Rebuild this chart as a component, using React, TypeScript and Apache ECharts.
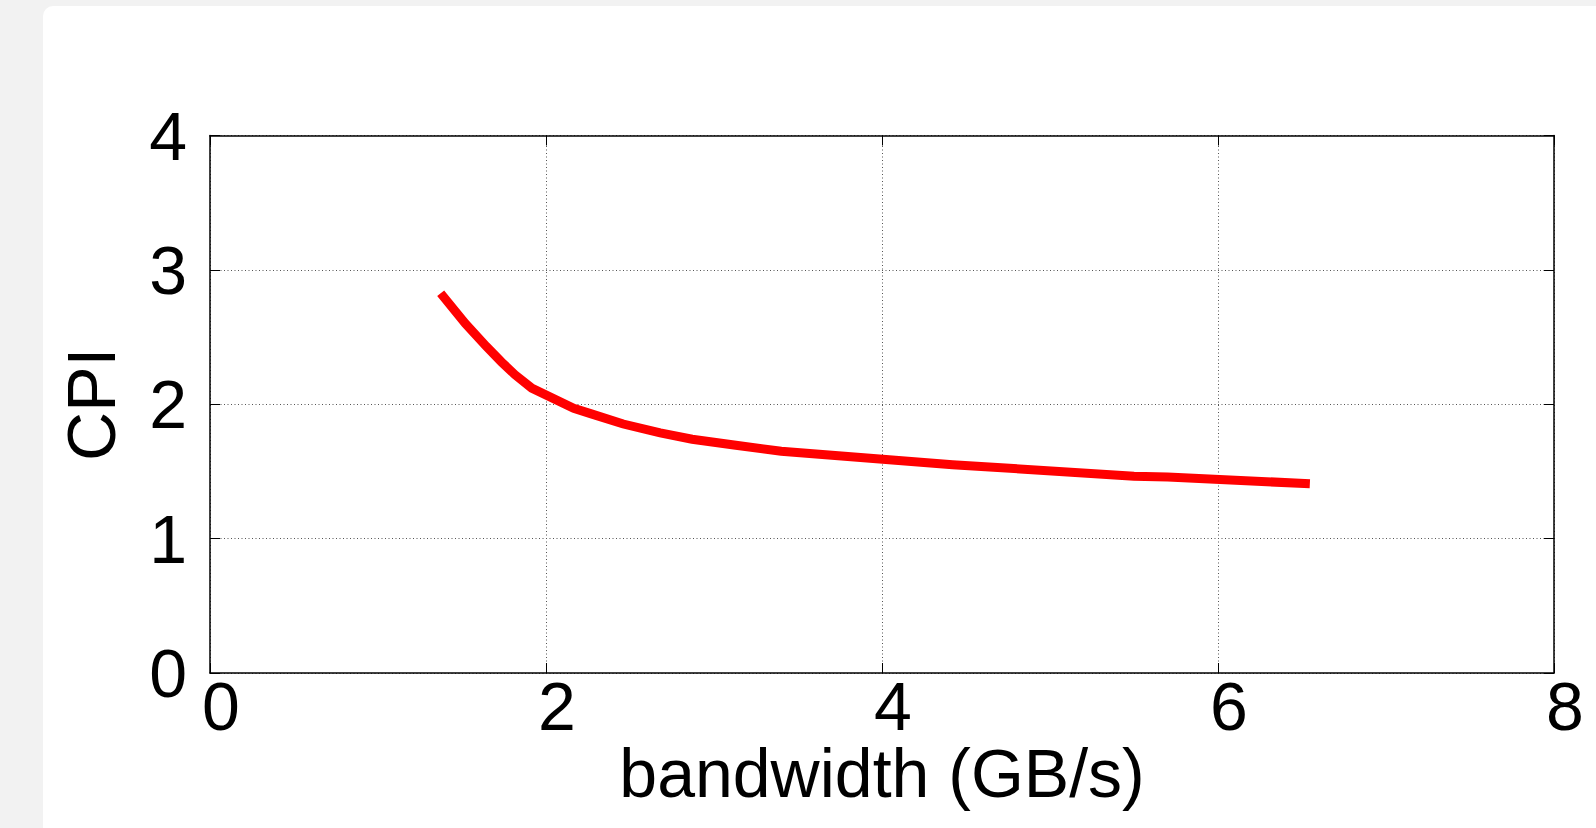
import React, { useEffect, useRef } from "react";
import * as echarts from "echarts";

const bandwidth = [1.39, 1.52, 1.645, 1.735, 1.815, 1.915, 2.165, 2.265, 2.46, 2.68, 2.87, 3.13, 3.4, 4.42, 5.5, 5.7, 6.52];
const cpi = [2.8, 2.6, 2.43, 2.315, 2.22, 2.12, 1.97, 1.93, 1.853, 1.787, 1.74, 1.695, 1.65, 1.55, 1.465, 1.458, 1.41];
const xTicks = [0, 2, 4, 6, 8];
const yTicks = [0, 1, 2, 3, 4];

const FONT = "Liberation Sans";

export default function App() {
  const ref = useRef<HTMLDivElement>(null);
  useEffect(() => {
    if (!ref.current) return;
    const chart = echarts.init(ref.current, null, { renderer: "svg" });
    const points = bandwidth.map((b, i) => [b, cpi[i]]);
    const gridLine = { show: true, lineStyle: { color: "#555", width: 1, type: [1, 2.5] as any } };
    const border = { show: true, onZero: false, lineStyle: { color: "#000", width: 1.5 } };
    const tick = { show: true, inside: true, length: 10, lineStyle: { color: "#000", width: 1 } };
    chart.setOption({
      animation: false,
      backgroundColor: "transparent",
      grid: { left: 210, top: 135.5, right: 42, bottom: 155, containLabel: false },
      xAxis: [
        {
          type: "value",
          min: xTicks[0],
          max: xTicks[xTicks.length - 1],
          interval: 2,
          name: "bandwidth (GB/s)",
          nameLocation: "middle",
          nameGap: 74,
          nameMoveOverlap: false,
          nameTextStyle: { fontFamily: FONT, fontSize: 68, lineHeight: 52, color: "#000" },
          axisLine: border,
          axisTick: tick,
          axisLabel: { fontFamily: FONT, fontSize: 68, lineHeight: 52, color: "#000", margin: 7, padding: [0, 0, 0, 22] },
          splitLine: gridLine,
        },
        {
          type: "value",
          position: "top",
          min: xTicks[0],
          max: xTicks[xTicks.length - 1],
          interval: 2,
          axisLine: border,
          axisTick: tick,
          axisLabel: { show: false },
          splitLine: { show: false },
        },
      ],
      yAxis: [
        {
          type: "value",
          min: yTicks[0],
          max: yTicks[yTicks.length - 1],
          interval: 1,
          name: "CPI",
          nameLocation: "middle",
          nameGap: 85,
          nameRotate: 90,
          nameTextStyle: { fontFamily: FONT, fontSize: 68, color: "#000" },
          axisLine: border,
          axisTick: tick,
          axisLabel: { fontFamily: FONT, fontSize: 68, color: "#000", margin: 23 },
          splitLine: gridLine,
        },
        {
          type: "value",
          position: "right",
          min: yTicks[0],
          max: yTicks[yTicks.length - 1],
          interval: 1,
          axisLine: border,
          axisTick: tick,
          axisLabel: { show: false },
          splitLine: { show: false },
        },
      ],
      series: [
        {
          type: "line",
          data: points,
          showSymbol: false,
          lineStyle: { color: "#ff0000", width: 9, cap: "square", join: "miter" },
          z: 5,
        },
      ],
    });
    return () => chart.dispose();
  }, []);
  return (
    <div style={{ position: "fixed", left: 0, top: 0, width: 1596, height: 828, background: "#f2f2f2", overflow: "hidden" }}>
      <div style={{ position: "absolute", left: 43, top: 6, width: 1600, height: 900, background: "#fff", borderRadius: 10 }} />
      <div ref={ref} style={{ position: "absolute", left: 0, top: 0, width: 1596, height: 828 }} />
    </div>
  );
}
